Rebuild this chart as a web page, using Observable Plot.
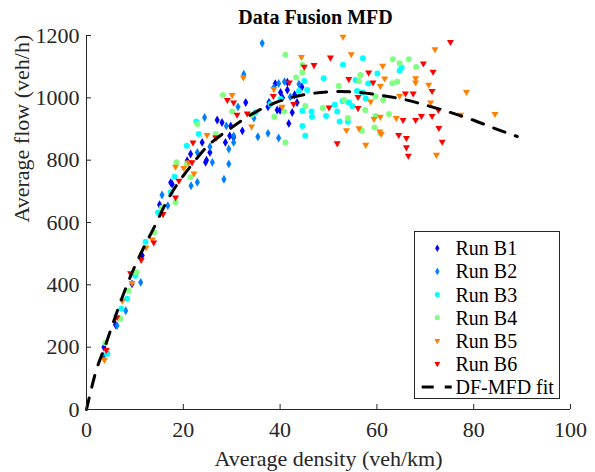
<!DOCTYPE html>
<html><head><meta charset="utf-8">
<script src="https://cdn.jsdelivr.net/npm/d3@7"></script>
<script src="https://cdn.jsdelivr.net/npm/@observablehq/plot@0.6"></script>
<style>
body{margin:0;background:#fff;font-family:"Liberation Serif","Times New Roman",serif;}
#wrap{position:relative;width:595px;height:472px;}
#wrap svg text{font-family:"Liberation Serif","Times New Roman",serif !important;}
#legend{position:absolute;left:0;top:0;}
</style></head>
<body><div id="wrap"></div>
<script>
// ---- data (density veh/km, flow veh/h) ----
const runB1 = [[3.6,200],[6.0,272],[9.4,403],[11.5,494],[15.1,657],[17.4,728],[17.7,723],[20.8,798],[21.5,820],[23.9,857],[24.6,793],[24.8,800],[25.5,825],[27.0,929],[28.0,921],[28.7,857],[29.6,878],[29.8,910],[30.4,873],[32.2,894],[32.9,985],[37.5,971],[37.7,985],[39.4,961],[40.1,1017],[41.5,1025],[41.8,918],[42.5,953],[40.5,1000],[43.0,1010],[39.0,1045],[41.5,1050],[44.5,1035],[43.5,985],[40.0,960]];
const runB2 = [[3.5,170],[6.3,269],[8.1,317],[11.2,408],[15.6,688],[16.8,654],[21.6,718],[22.9,729],[26.0,793],[28.4,739],[29.4,788],[22.9,825],[25.5,843],[24.4,937],[28.9,910],[29.4,836],[30.4,857],[30.4,878],[31.3,971],[32.5,1076],[34.6,935],[35.4,875],[37.5,886],[39.7,871],[37.9,980],[38.7,1033],[39.7,1046],[40.9,1052],[43.9,1044],[42.1,1003],[36.3,1175]];
const runB3 = [[4.3,179],[7.2,323],[8.4,355],[10.1,429],[12.2,538],[14.8,632],[17.4,697],[18.2,747],[20.7,846],[22.7,924],[23.2,884],[34.9,953],[38.0,980],[40.1,996],[43.9,1022],[44.6,958],[45.0,1054],[45.2,878],[44.6,910],[45.6,1025],[46.5,956],[46.6,939],[49.0,1063],[49.5,942],[51.3,978],[51.8,956],[52.3,924],[52.9,990],[53.0,1106],[54.0,923],[54.2,985],[54.9,974],[55.6,1057],[55.9,1022],[57.0,1017],[57.1,1127],[57.7,998],[58.2,1046],[60.1,1078],[64.7,1087],[65.1,1097]];
const runB4 = [[3.9,213],[7.0,291],[8.7,381],[10.3,440],[14.0,568],[15.6,648],[18.4,664],[18.6,793],[20.7,788],[21.5,745],[22.9,916],[26.7,884],[28.2,1009],[30.1,956],[34.1,945],[38.8,939],[40.8,956],[41.1,857],[41.1,1138],[43.3,1065],[44.6,1106],[44.6,1081],[45.2,974],[48.8,967],[52.1,1038],[53.2,993],[54.0,935],[56.3,1054],[56.6,1073],[56.9,894],[57.6,961],[59.5,905],[59.7,1004],[59.7,942],[60.7,886],[61.3,993],[62.5,948],[63.2,1047],[63.3,1124],[64.2,1052],[64.7,1111],[66.6,1124],[68.1,1099]];
const runB5 = [[3.7,159],[7.4,349],[9.4,406],[12.3,520],[13.6,545],[18.4,779],[20.1,775],[21.1,793],[22.2,757],[24.9,881],[26.9,873],[30.1,1009],[32.4,1065],[34.1,908],[38.7,1028],[40.4,971],[44.4,1131],[53.0,1196],[53.7,896],[54.7,1140],[56.3,902],[57.7,849],[58.7,988],[59.4,932],[60.6,892],[60.7,1038],[60.7,939],[60.9,884],[61.2,1103],[61.6,1062],[64.0,935],[64.7,1006],[68.0,1063],[68.0,1049],[70.7,1042],[71.1,985],[72.0,1156],[72.3,817],[77.3,946],[78.5,1019],[84.4,948]];
const runB6 = [[4.1,191],[6.3,296],[9.1,437],[11.3,480],[13.9,536],[15.8,627],[18.4,680],[19.1,734],[21.8,793],[22.0,857],[26.7,873],[29.1,993],[30.4,985],[31.1,946],[33.2,950],[38.6,1006],[41.9,1049],[42.8,980],[45.0,1100],[47.0,1105],[50.1,969],[50.4,1129],[51.8,854],[54.2,1060],[56.1,1003],[56.1,967],[58.3,1081],[59.2,1049],[64.5,881],[65.4,929],[65.9,1014],[66.1,871],[66.1,841],[66.5,814],[67.5,1014],[68.0,929],[69.2,942],[69.6,1110],[71.4,1022],[71.4,942],[71.6,1084],[72.7,961],[72.8,903],[73.5,859],[75.2,1179]];
const fitK = [0,2,4,6,8,10,12,14,16,18,20,22,25,30,35,40,45,50,55,60,65,70,75,80,85,89];
const fitQ = [0,125,210,300,385,460,525,585,650,705,750,790,845,905,955,990,1010,1019,1019,1010,997,977,954,928,898,876];
const xTicks = [0,20,40,60,80,100];
const yTicks = [0,200,400,600,800,1000,1200];
const seriesNames = ["Run B1","Run B2","Run B3","Run B4","Run B5","Run B6"];
const fitName = "DF-MFD fit";
const titleText = "Data Fusion MFD";
const xLabel = "Average density (veh/km)";
const yLabel = "Average flow (veh/h)";

// ---- styles ----
const colors = ["#0000ff","#0080ff","#00ffff","#80ff80","#ff8000","#ff0000"];
const symbols = ["diamond","diamond","circle","circle","triangle","triangle"];
const radii = [2.7,2.7,3.0,3.0,2.6,2.6];
const rotations = [0,0,0,0,180,180];
const axisColor = "#262626";
const FONT = "'Liberation Serif', 'Times New Roman', serif";
const AXFS = 22;

const runs = [runB1,runB2,runB3,runB4,runB5,runB6];
const fit = fitK.map((k,i)=>({k, q: fitQ[i]}));

const W=595, H=472, mL=86, mR=25, mT=35, mB=63;
const innerW = W-mL-mR, innerH = H-mT-mB;
const fmt = d => String(d);

const chart = Plot.plot({
  width: W, height: H,
  marginLeft: mL, marginRight: mR, marginTop: mT, marginBottom: mB,
  style: `font-family: ${FONT}; font-size: ${AXFS}px; color: ${axisColor}; background: #fff; overflow: visible;`,
  x: {domain: [0,100]},
  y: {domain: [0,1200]},
  marks: [
    ...runs.map((arr,i)=>Plot.dot(arr, {
      x: d=>d[0], y: d=>d[1], symbol: symbols[i], fill: colors[i],
      r: radii[i], rotate: rotations[i], stroke: "none"
    })),
    Plot.line(fit, {x:"k", y:"q", stroke:"#000", strokeWidth:3, strokeDasharray:"12,11", curve:"catmull-rom"}),
    Plot.ruleX([0], {stroke: axisColor, strokeWidth: 1}),
    Plot.ruleY([0], {stroke: axisColor, strokeWidth: 1}),
    Plot.tickY(yTicks, {y: d=>d, insetRight: innerW-5, stroke: axisColor}),
    Plot.tickX(xTicks, {x: d=>d, insetTop: innerH-5, stroke: axisColor}),
    Plot.axisY(yTicks, {tickSize: 0, tickPadding: 7, label: null, fontSize: AXFS, fill: axisColor, tickFormat: fmt, fontFamily: FONT}),
    Plot.axisX(xTicks, {tickSize: 0, tickPadding: 12, label: null, fontSize: AXFS, fill: axisColor, tickFormat: fmt, fontFamily: FONT}),
    Plot.text([xLabel], {frameAnchor: "bottom", lineAnchor: "middle", dy: 49, fontSize: AXFS, fill: axisColor, fontFamily: FONT}),
    Plot.text([yLabel], {frameAnchor: "left", lineAnchor: "middle", dx: -65, rotate: -90, fontSize: AXFS, fill: axisColor, fontFamily: FONT}),
    Plot.text([titleText], {frameAnchor: "top", lineAnchor: "middle", dy: -18, dx: -13, fontSize: 20, fontWeight: "bold", fill: "#000", fontFamily: FONT})
  ]
});
const wrap = document.getElementById("wrap");
wrap.appendChild(chart);

// ---- legend overlay ----
const lg = d3.select(wrap).append("svg").attr("id","legend").attr("width",W).attr("height",H);
const bx=414.5, by=231.5, bw=145, bh=167;
lg.append("rect").attr("x",bx).attr("y",by).attr("width",bw).attr("height",bh)
  .attr("fill","#fff").attr("stroke",axisColor).attr("stroke-width",1);
const rowY0 = 248.3, rowDy = 23.1;
const d3sym = {diamond: d3.symbolDiamond, circle: d3.symbolCircle, triangle: d3.symbolTriangle};
seriesNames.forEach((name,i)=>{
  const cy = rowY0 + i*rowDy;
  const r = radii[i]*0.85;
  lg.append("path")
    .attr("d", d3.symbol(d3sym[symbols[i]], Math.PI*r*r)())
    .attr("transform", `translate(437.3,${cy}) rotate(${rotations[i]})`)
    .attr("fill", colors[i]);
  lg.append("text").attr("x",455.5).attr("y",cy).attr("dy","0.35em")
    .attr("font-size",20).attr("fill","#000").text(name);
});
const fy = rowY0 + 6*rowDy;
lg.append("line").attr("x1",421.7).attr("x2",451.7).attr("y1",fy).attr("y2",fy)
  .attr("stroke","#000").attr("stroke-width",3).attr("stroke-dasharray","12,11");
lg.append("text").attr("x",455.5).attr("y",fy).attr("dy","0.35em")
  .attr("font-size",20).attr("fill","#000").text(fitName);
</script></body></html>
